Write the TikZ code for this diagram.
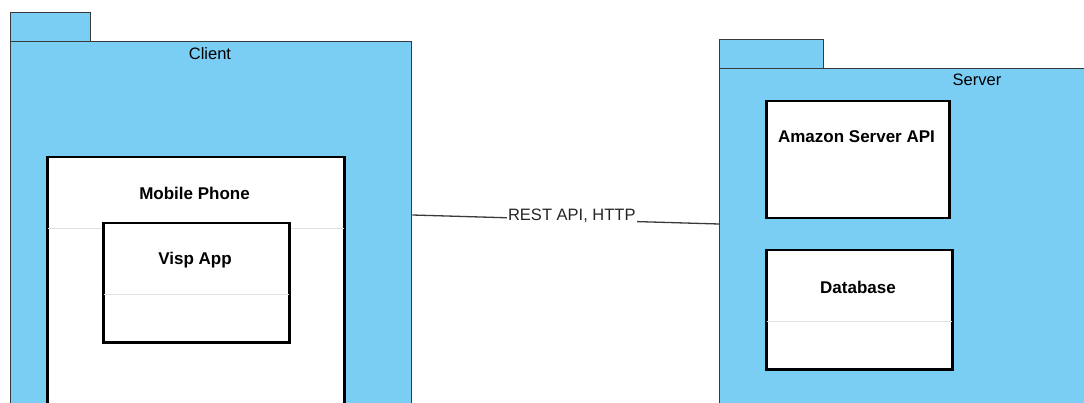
\documentclass[tikz,border=0pt]{standalone}
\usepackage{fontspec}
\setmainfont{Liberation Sans}
\usepackage{tikz}
\usetikzlibrary{positioning, calc}
\definecolor{paqueteAzul}{HTML}{7ACEF4}
\definecolor{bordeGris}{HTML}{3A3A3A}
\definecolor{lineaSep}{HTML}{E2E2E2}

\begin{document}
\begin{tikzpicture}[x=1pt, y=-1pt, font=\fontsize{16.5}{18}\selectfont,
        pkg/.style={draw=bordeGris, fill=paqueteAzul, line width=1.3pt,
            anchor=north west, inner sep=0pt},
        comp/.style={draw=black, fill=white, line width=2.5pt,
            anchor=north west, inner sep=0pt},
        titulo/.style={font=\fontsize{17}{19}\selectfont\bfseries, inner sep=0pt},
        sep/.style={lineaSep, line width=0.8pt}]
        \useasboundingbox (0,0) rectangle (1084,403);
        \clip (0,0) rectangle (1084,403);
        % paquete cliente
        \node[pkg, minimum width=80pt, minimum height=29pt] (ctab) at (10,12) {};
        \node[pkg, minimum width=401pt, minimum height=420pt] (client) at (10,41) {};
        \node[inner sep=0pt] (clbl) at (210,54) {Client};
        \node[comp, minimum width=297pt, minimum height=300pt] (phone) at (46,156) {};
        \node[titulo] (phonelbl) at (194.5,193) {Mobile Phone};
        \draw[sep] ($(phone.north west)+(1.5,72)$) -- ($(phone.north east)+(-1.5,72)$);
        \node[comp, minimum width=186pt, minimum height=119pt] (visp) at (102,222) {};
        \node[titulo] (visplbl) at (195,260) {Visp App};
        \draw[sep] ($(visp.north west)+(1.5,72)$) -- ($(visp.north east)+(-1.5,72)$);
        % paquete servidor
        \node[pkg, minimum width=104pt, minimum height=29pt] (stab) at (719,39) {};
        \node[pkg, minimum width=516pt, minimum height=420pt] (server) at (719,68) {};
        \node[inner sep=0pt] (slbl) at (977,80) {Server};
        \node[comp, minimum width=183pt, minimum height=117pt] (api) at (765,100) {};
        \node[titulo] (apilbl) at (856.5,137) {Amazon Server API};
        \node[comp, minimum width=186pt, minimum height=119pt] (db) at (765,249) {};
        \node[titulo] (dblbl) at (858,287) {Database};
        \draw[sep] ($(db.north west)+(1.5,72)$) -- ($(db.north east)+(-1.5,72)$);
        % enlace
        \coordinate (cport) at (client.north east |- 0,215);
        \coordinate (sport) at (server.north west |- 0,224);
        \draw[bordeGris, line width=1.3pt] (cport) -- node[pos=0.52, fill=white, text=black!85, inner sep=1pt, yshift=4pt]{REST API, HTTP} (sport);
    \end{tikzpicture}
\end{document}
